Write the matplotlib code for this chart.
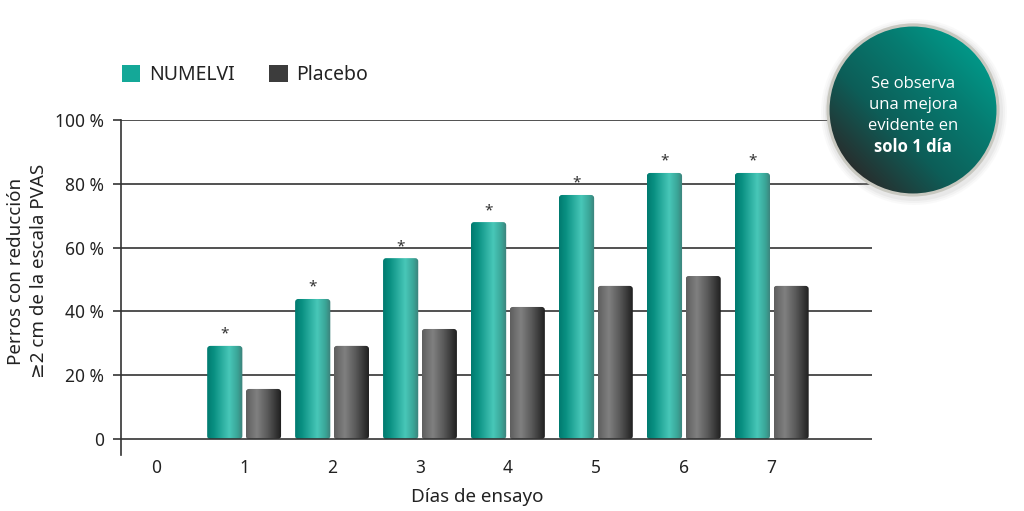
import numpy as np
import matplotlib
matplotlib.use("Agg")
import matplotlib.pyplot as plt
from matplotlib.colors import LinearSegmentedColormap
from matplotlib.patches import Patch, Circle, FancyBboxPatch

plt.rcParams["font.family"] = ["Noto Sans", "DejaVu Sans"]

day_labels = ["0", "1", "2", "3", "4", "5", "6", "7"]
bar_days = [1, 2, 3, 4, 5, 6, 7]
numelvi = [29.2, 43.9, 56.7, 68.0, 76.5, 83.4, 83.4]
placebo = [15.7, 29.2, 34.5, 41.4, 48.0, 51.1, 48.0]
y_ticks = [0, 20, 40, 60, 80, 100]
y_ticklabels = ["0", "20 %", "40 %", "60 %", "80 %", "100 %"]

teal_cmap = LinearSegmentedColormap.from_list(
    "teal", [(0, "#007a6f"), (0.2, "#0a9183"), (0.62, "#48c7b8"), (0.85, "#3aa597"), (1, "#3d7e78")])
grey_cmap = LinearSegmentedColormap.from_list(
    "grey", [(0, "#5e5e5e"), (0.3, "#808080"), (0.6, "#5a5a5a"), (1, "#1b1b1b")])
circle_cmap = LinearSegmentedColormap.from_list(
    "circ", ["#2a2a2a", "#0d5e58", "#067c71", "#00a190"])

TXT = "#222222"


def gradient_bars(ax, bars, cmap):
    grad = np.linspace(0, 1, 256).reshape(1, -1)
    for b in bars:
        x, y, w, h = b.get_x(), b.get_y(), b.get_width(), b.get_height()
        b.set_visible(False)
        shape = FancyBboxPatch((x, y), w, h, boxstyle="round,pad=0,rounding_size=0.035",
                               mutation_aspect=27, fc="none", ec="none")
        ax.add_patch(shape)
        im = ax.imshow(grad, extent=(x, x + w, y, y + h), aspect="auto", cmap=cmap,
                       zorder=2, interpolation="bilinear")
        im.set_clip_path(shape)


fig = plt.figure(figsize=(10.24, 5.11), dpi=100)
ax = fig.add_axes([121 / 1024, 1 - 455 / 511, (872 - 121) / 1024, (455 - 120) / 511])

x = np.array(bar_days, dtype=float)
w = 0.4
b1 = ax.bar(x - 0.22, numelvi, w)
b2 = ax.bar(x + 0.22, placebo, w)
gradient_bars(ax, b1, teal_cmap)
gradient_bars(ax, b2, grey_cmap)

for xi, v in zip(x, numelvi):
    ax.annotate("*", (xi - 0.22, v), xytext=(0, 3), textcoords="offset points",
                ha="center", va="bottom", fontsize=11, color="#333333")

ax.set_xlim(-0.4, 8.14)
ax.set_ylim(-5, 100)
ax.set_yticks(y_ticks)
ax.set_yticklabels(y_ticklabels)
ax.set_xticks(range(len(day_labels)))
ax.set_xticklabels(day_labels)
ax.tick_params(axis="x", length=0, pad=3, labelsize=12.5, labelcolor=TXT)
ax.tick_params(axis="y", length=6, width=1.2, color="#333333", pad=6, labelsize=12.5, labelcolor=TXT)
for s in ["top", "right", "bottom"]:
    ax.spines[s].set_visible(False)
ax.spines["left"].set_color("#333333")
ax.spines["left"].set_linewidth(1.2)
for yv in y_ticks:
    ax.axhline(yv, color="#333333", lw=1.2, zorder=1 if yv else 3)

ax.set_xlabel("Días de ensayo", fontsize=13.5, color=TXT)
ax.xaxis.set_label_coords(0.475, -0.098)
ax.set_ylabel("Perros con reducción\n≥2 cm de la escala PVAS", fontsize=13.5, color=TXT,
              linespacing=1.4)
ax.yaxis.set_label_coords(-0.097, 0.549)

handles = [Patch(facecolor="#14a898", edgecolor="none", label="NUMELVI"),
           Patch(facecolor="#3c3c3c", edgecolor="none", label="Placebo")]
fig.legend(handles=handles, loc="center left", bbox_to_anchor=(104 / 1024, 1 - 75 / 511),
           ncol=2, frameon=False, fontsize=14, handlelength=0.95, handleheight=0.95,
           handletextpad=0.45, columnspacing=1.8, labelcolor=TXT)

# callout circle
cax = fig.add_axes([(913 - 95) / 1024, 1 - (110 + 95) / 511, 190 / 1024, 190 / 511])
cax.set_xlim(-95, 95)
cax.set_ylim(-95, 95)
cax.axis("off")
for r, a in [(93, 0.05), (91, 0.07), (89, 0.1)]:
    cax.add_patch(Circle((1, -2), r, fc="#999999", ec="none", alpha=a))
circ = Circle((0, 0), 85, fc="none", ec="#c8c8c0", lw=2.2, zorder=3)
cax.add_patch(circ)
gx, gy = np.meshgrid(np.linspace(-1, 1, 200), np.linspace(-1, 1, 200))
grad = (gx + gy) / 2
im = cax.imshow(grad, extent=(-85, 85, -85, 85), origin="lower", cmap=circle_cmap,
                vmin=-0.75, vmax=0.85, zorder=2)
im.set_clip_path(circ)
lines = ["Se observa", "una mejora", "evidente en"]
for i, t in enumerate(lines):
    cax.text(0, 26 - i * 21, t, ha="center", va="center", color="white", fontsize=12,
             family=["Open Sans", "DejaVu Sans"], zorder=4)
cax.text(0, 26 - 3 * 21, "solo 1 día", ha="center", va="center", color="white",
         fontsize=12, fontweight="bold", family=["Open Sans", "DejaVu Sans"], zorder=4)

fig.savefig("out.png", dpi=100)
